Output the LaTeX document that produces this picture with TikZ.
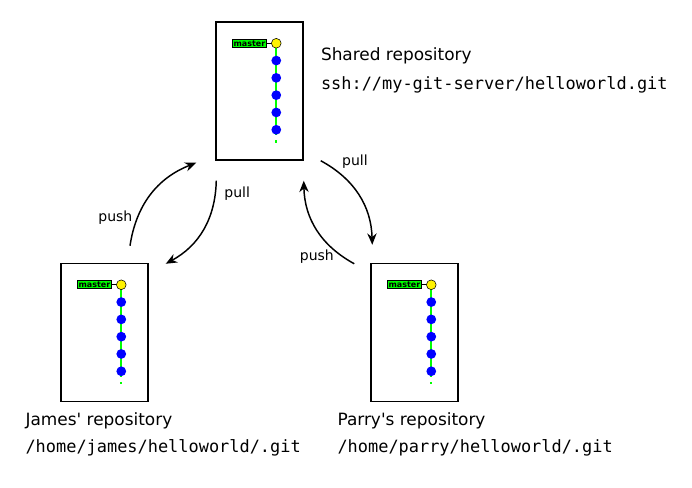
\documentclass[tikz,border=0pt]{standalone}
\usepackage{fontspec}
\setmainfont{DejaVu Sans}
\setmonofont{DejaVu Sans Mono}
\usetikzlibrary{positioning,arrows.meta}

\tikzset{
  repo/.style={draw, line width=1.1pt, minimum width=65.25pt, minimum height=103.5pt, inner sep=0pt},
  headref/.style={circle, draw, fill=yellow, inner sep=0pt, minimum size=7.3pt, line width=0.4pt},
  commit/.style={circle, fill=blue, inner sep=0pt, minimum size=7.3pt},
  branch/.style={green, line width=1.3pt},
  reflabel/.style={draw, fill=green, inner sep=0.9pt, line width=0.6pt, font=\fontsize{6}{6}\selectfont\bfseries},
  flow/.style={-{Stealth[length=8.5pt,width=7pt]}, line width=1.1pt},
  flowlabel/.style={font=\fontsize{10.5}{12}\selectfont},
  reponame/.style={anchor=west, inner sep=0pt, font=\fontsize{12.7}{15}\selectfont},
  repopath/.style={anchor=west, inner sep=0pt, font=\fontsize{12.7}{15}\selectfont\ttfamily},
}

\begin{document}
\begin{tikzpicture}[x=0.75pt, y=0.75pt]
  \useasboundingbox (0,0) rectangle (692,-488);

  % the three repositories
  \foreach \r/\x/\y in {shared/259.5/-91, james/104.5/-332.5, parry/414.5/-332.5} {
    \node[repo] (\r) at (\x,\y) {};
    \coordinate (\r-tip) at ([shift={(61,-22)}]\r.north west);
    \draw[branch] (\r-tip) -- ++(0,-92);
    \draw[branch] ([shift={(0,-97)}]\r-tip) -- ++(0,-2.5);
    \foreach \i in {1,...,5}
      \node[commit] (\r-c\i) at ([shift={(0,-17.3*\i)}]\r-tip) {};
    \node[headref] (\r-head) at (\r-tip) {};
    \node[reflabel, anchor=east] (\r-ref) at ([xshift=-3.2pt]\r-head.west) {master};
    \draw[line width=0.6pt] (\r-ref) -- (\r-head);
  }

  % names and paths
  \node[reponame] (shared-name) at ([shift={(17,-35)}]shared.north east) {Shared repository};
  \node[repopath] (shared-path) at ([shift={(17,-64)}]shared.north east) {ssh://my-git-server/helloworld.git};
  \node[reponame] (james-name) at ([shift={(-35,-19)}]james.south west) {James\textquotesingle{} repository};
  \node[repopath] (james-path) at ([shift={(-35,-46)}]james.south west) {/home/james/helloworld/.git};
  \node[reponame] (parry-name) at ([shift={(-33,-19)}]parry.south west) {Parry\textquotesingle{}s repository};
  \node[repopath] (parry-path) at ([shift={(-33,-46)}]parry.south west) {/home/parry/helloworld/.git};

  % push and pull
  \draw[flow] ([shift={(25.5,17)}]james.north) to[bend left=30]
    node[flowlabel, pos=0.25, left=0pt] {push} ([shift={(-19,-2)}]shared.south west);
  \draw[flow] ([shift={(1,-20)}]shared.south west) to[bend left=30]
    node[flowlabel, pos=0.12, right=3pt] {pull} ([shift={(17,-1)}]james.north east);
  \draw[flow] ([shift={(17,0)}]shared.south east) to[bend left=30]
    node[flowlabel, pos=0.1, anchor=west, xshift=5pt, yshift=4pt] {pull} ([shift={(2,18)}]parry.north west);
  \draw[flow] ([shift={(-16,-1)}]parry.north west) to[bend left=30]
    node[flowlabel, pos=0.12, left=3pt] {push} ([shift={(0,-20)}]shared.south east);
\end{tikzpicture}
\end{document}
